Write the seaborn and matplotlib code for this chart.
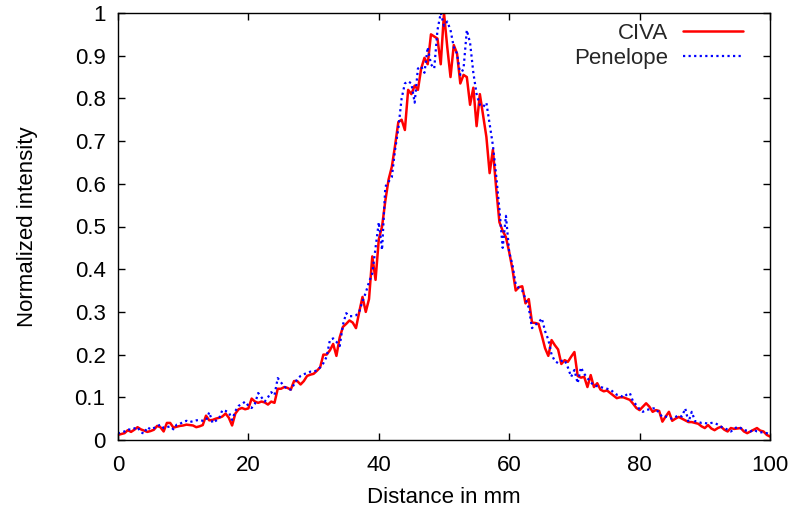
import numpy as np
import pandas as pd
import matplotlib
matplotlib.use("Agg")
import matplotlib.pyplot as plt
import seaborn as sns
from matplotlib.ticker import FuncFormatter

# Distance axis (mm), sampled every 0.5 mm
distance = [i * 0.5 for i in range(201)]

civa = [
    0.012, 0.014, 0.016, 0.023, 0.019, 0.024, 0.030, 0.025, 0.022, 0.019,
    0.021, 0.024, 0.033, 0.030, 0.020, 0.040, 0.040, 0.029, 0.031, 0.033,
    0.034, 0.036, 0.035, 0.034, 0.030, 0.032, 0.035, 0.057, 0.046, 0.047,
    0.050, 0.052, 0.055, 0.062, 0.052, 0.034, 0.062, 0.072, 0.075, 0.072,
    0.074, 0.097, 0.090, 0.087, 0.090, 0.088, 0.083, 0.090, 0.087, 0.120,
    0.120, 0.124, 0.122, 0.118, 0.138, 0.138, 0.130, 0.138, 0.150, 0.153,
    0.155, 0.162, 0.170, 0.200, 0.200, 0.210, 0.225, 0.197, 0.240, 0.265,
    0.272, 0.280, 0.275, 0.262, 0.300, 0.335, 0.300, 0.330, 0.430, 0.375,
    0.470, 0.500, 0.560, 0.610, 0.640, 0.690, 0.745, 0.750, 0.726, 0.820,
    0.810, 0.830, 0.820, 0.870, 0.895, 0.880, 0.950, 0.945, 0.940, 0.880,
    1.000, 0.920, 0.850, 0.925, 0.905, 0.835, 0.855, 0.850, 0.785, 0.825,
    0.735, 0.810, 0.760, 0.710, 0.625, 0.680, 0.590, 0.510, 0.490, 0.475,
    0.440, 0.400, 0.350, 0.358, 0.360, 0.320, 0.330, 0.275, 0.274, 0.272,
    0.245, 0.215, 0.197, 0.234, 0.222, 0.212, 0.178, 0.187, 0.183, 0.195,
    0.206, 0.150, 0.146, 0.148, 0.124, 0.152, 0.124, 0.133, 0.118, 0.114,
    0.116, 0.110, 0.104, 0.098, 0.100, 0.100, 0.097, 0.094, 0.085, 0.075,
    0.070, 0.078, 0.086, 0.078, 0.066, 0.070, 0.068, 0.043, 0.055, 0.066,
    0.045, 0.050, 0.054, 0.050, 0.046, 0.042, 0.042, 0.040, 0.038, 0.032,
    0.028, 0.035, 0.027, 0.023, 0.028, 0.031, 0.024, 0.020, 0.028, 0.026,
    0.027, 0.028, 0.020, 0.016, 0.020, 0.024, 0.028, 0.022, 0.020, 0.012,
    0.008,
]

penelope = [
    0.015, 0.018, 0.020, 0.025, 0.024, 0.027, 0.030, 0.018, 0.015, 0.030,
    0.025, 0.028, 0.032, 0.036, 0.028, 0.030, 0.032, 0.025, 0.036, 0.038,
    0.042, 0.045, 0.042, 0.044, 0.046, 0.047, 0.045, 0.046, 0.065, 0.040,
    0.045, 0.050, 0.070, 0.068, 0.065, 0.047, 0.068, 0.080, 0.084, 0.090,
    0.080, 0.075, 0.085, 0.110, 0.100, 0.090, 0.100, 0.112, 0.105, 0.145,
    0.135, 0.125, 0.120, 0.118, 0.130, 0.143, 0.150, 0.154, 0.157, 0.160,
    0.160, 0.163, 0.170, 0.180, 0.195, 0.234, 0.238, 0.230, 0.220, 0.270,
    0.297, 0.290, 0.290, 0.292, 0.300, 0.325, 0.345, 0.370, 0.390, 0.450,
    0.510, 0.445, 0.593, 0.605, 0.616, 0.680, 0.730, 0.800, 0.835, 0.840,
    0.835, 0.790, 0.870, 0.875, 0.860, 0.920, 0.880, 0.870, 0.960, 1.000,
    0.970, 0.980, 0.960, 0.920, 0.905, 0.855, 0.870, 0.960, 0.930, 0.860,
    0.810, 0.785, 0.780, 0.790, 0.740, 0.690, 0.620, 0.540, 0.450, 0.525,
    0.440, 0.410, 0.365, 0.355, 0.350, 0.330, 0.310, 0.262, 0.270, 0.275,
    0.285, 0.255, 0.235, 0.200, 0.185, 0.180, 0.185, 0.187, 0.170, 0.148,
    0.164, 0.133, 0.170, 0.155, 0.145, 0.135, 0.128, 0.126, 0.124, 0.122,
    0.120, 0.118, 0.112, 0.106, 0.105, 0.100, 0.106, 0.110, 0.090, 0.082,
    0.072, 0.066, 0.070, 0.072, 0.074, 0.074, 0.062, 0.054, 0.055, 0.052,
    0.050, 0.054, 0.058, 0.055, 0.074, 0.042, 0.066, 0.044, 0.042, 0.040,
    0.040, 0.038, 0.040, 0.040, 0.036, 0.031, 0.028, 0.024, 0.020, 0.026,
    0.031, 0.028, 0.023, 0.022, 0.020, 0.024, 0.020, 0.018, 0.018, 0.016,
    0.014,
]

series_names = ["CIVA", "Penelope"]
x_ticks = [0, 20, 40, 60, 80, 100]
y_ticks = [0, 0.1, 0.2, 0.3, 0.4, 0.5, 0.6, 0.7, 0.8, 0.9, 1.0]

sns.set_theme(style="ticks")
plt.rcParams["font.family"] = ["Liberation Sans", "DejaVu Sans"]

fig = plt.figure(figsize=(8.05, 5.08), dpi=100)
ax = fig.add_axes([118 / 805, 68 / 508, 652 / 805, 427 / 508])

df_civa = pd.DataFrame({"x": distance, "y": civa})
df_pen = pd.DataFrame({"x": distance, "y": penelope})

sns.lineplot(data=df_civa, x="x", y="y", ax=ax, color="#ff0000",
             linewidth=1.8, label=series_names[0])
sns.lineplot(data=df_pen, x="x", y="y", ax=ax, color="#0000ff",
             linewidth=1.6, linestyle=(0, (1, 1.5)), label=series_names[1])

ax.set_xlim(0, 100)
ax.set_ylim(0, 1)
ax.set_xticks(x_ticks)
ax.set_yticks(y_ticks)
ax.yaxis.set_major_formatter(FuncFormatter(lambda v, p: "%g" % v))
ax.tick_params(direction="in", length=5, width=1, colors="black",
               labelsize=16, top=True, right=True)
ax.tick_params(axis="x", pad=10.5)
ax.tick_params(axis="y", pad=9)
for s in ax.spines.values():
    s.set_color("black")
    s.set_linewidth(1)

ax.set_xlabel("Distance in mm", fontsize=16, labelpad=8, color="black")
ax.set_ylabel("Normalized intensity", fontsize=16, labelpad=26, color="black")

leg = ax.legend(loc="upper right", bbox_to_anchor=(0.958, 0.976),
                frameon=False, markerfirst=False, fontsize=16,
                handlelength=2.7, handletextpad=0.63, labelspacing=0.15,
                borderpad=0, borderaxespad=0)

fig.savefig("out.png", dpi=100)
